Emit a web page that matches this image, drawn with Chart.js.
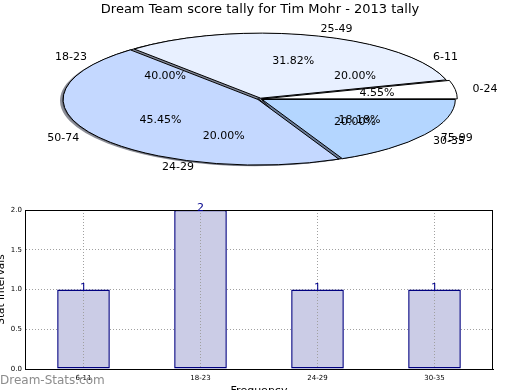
<!DOCTYPE html>
<html><head><meta charset="utf-8">
<script src="https://cdn.jsdelivr.net/npm/chart.js@4.4.0/dist/chart.umd.min.js"></script>
<style>
html,body{margin:0;padding:0;background:#fff;width:520px;height:390px;overflow:hidden;position:relative;}
canvas{position:absolute;left:0;}
#wm{position:absolute;left:0;top:373px;font:12px "DejaVu Sans";line-height:14px;color:#8c8c8c;z-index:5;}
</style></head><body>
<canvas id="pieA" width="520" height="390" style="top:0"></canvas>
<canvas id="pieB" width="520" height="390" style="top:0"></canvas>
<canvas id="bar" width="520" height="190" style="top:200px"></canvas>
<div id="wm">Dream-Stats.com</div>
<script>
// ---- data ----
const chartTitle = 'Dream Team score tally for Tim Mohr - 2013 tally';
const pieALabels = ['6-11', '18-23', '24-29', '30-35'];
const pieAValues = [1, 2, 1, 1];
const pieBLabels = ['0-24', '25-49', '50-74', '75-99'];
const pieBValues = [1, 7, 10, 4];
const barCategories = ['6-11', '18-23', '24-29', '30-35'];
const barValues = [1, 2, 1, 1];
const yTicks = [0, 0.5, 1, 1.5, 2];

// ---- styles ----
const pieColors = ['#ffffff', '#e8f0ff', '#c4d8ff', '#b4d6ff'];
const PIE_CX = 260, PIE_CY = 99, PIE_R = 193, PIE_RY = 65;
const K = PIE_RY / PIE_R;
const FONT = 'DejaVu Sans';

function applyT(ctx, el) {
  ctx.translate(PIE_CX, PIE_CY);
  ctx.scale(1, -K);
  ctx.translate(-el.x, -el.y);
}
function wedgePath(ctx, el, dx, dy) {
  const t = (el.options.offset || 0) / 4;
  const mid = (el.startAngle + el.endAngle) / 2;
  const circ = el.endAngle - el.startAngle;
  const fix = 1 - Math.sin(Math.min(Math.PI, circ));
  const R = el.outerRadius + t * fix;
  const cx = el.x + Math.cos(mid) * t + dx, cy = el.y + Math.sin(mid) * t + dy;
  ctx.moveTo(cx, cy);
  ctx.arc(cx, cy, R, el.startAngle, el.endAngle);
  ctx.closePath();
}
const squashPlugin = {
  id: 'squash',
  beforeDatasetsDraw(chart) {
    const ctx = chart.ctx;
    const arcs = chart.getDatasetMeta(0).data;
    ctx.save();
    applyT(ctx, arcs[0]);
    arcs.forEach(el => {
      ctx.beginPath();
      wedgePath(ctx, el, -0.016 * el.outerRadius, -0.018 * el.outerRadius);
      ctx.fillStyle = 'rgba(45,50,65,0.55)';
      ctx.fill();
    });
  },
  afterDatasetsDraw(chart) {
    const ctx = chart.ctx;
    ctx.restore();
    chart.getDatasetMeta(0).data.forEach(el => {
      ctx.save(); applyT(ctx, el); ctx.beginPath(); wedgePath(ctx, el, 0, 0); ctx.restore();
      ctx.save(); ctx.lineWidth = 1; ctx.strokeStyle = '#000'; ctx.lineJoin = 'round'; ctx.stroke(); ctx.restore();
    });
  }
};

function pieConfig(labels, values, offset, extraPlugins, withTitle) {
  return {
    type: 'pie',
    data: { labels: labels, datasets: [{
      data: values, backgroundColor: pieColors, borderWidth: 0, offset: offset, clip: false
    }]},
    options: {
      responsive: false, animation: false, rotation: 90, radius: PIE_R,
      plugins: {
        legend: { display: false }, tooltip: { enabled: false },
        title: { display: withTitle, text: chartTitle, color: '#000',
                 font: { family: FONT, size: 13, weight: 'normal' }, padding: { top: 2, bottom: 4 } }
      }
    },
    plugins: [squashPlugin].concat(extraPlugins)
  };
}

const chartA = new Chart(document.getElementById('pieA'), pieConfig(pieALabels, pieAValues, 6, [], true));

function drawPieTexts(ctx, chart, labels) {
  const meta = chart.getDatasetMeta(0);
  const vals = chart.data.datasets[0].data;
  const total = vals.reduce((a, b) => a + b, 0);
  meta.data.forEach((el, i) => {
    const t = (el.options.offset || 0) / 4;
    const mid = (el.startAngle + el.endAngle) / 2;
    const R = el.outerRadius;
    const ox = Math.cos(mid) * t, oy = Math.sin(mid) * t;
    ctx.textBaseline = 'middle';
    ctx.textAlign = Math.cos(mid) > 0 ? 'left' : 'right';
    ctx.fillText(labels[i], PIE_CX + ox + 1.1 * R * Math.cos(mid), PIE_CY - K * (oy + 1.1 * R * Math.sin(mid)));
    ctx.textAlign = 'center';
    ctx.fillText((vals[i] / total * 100).toFixed(2) + '%', PIE_CX + ox + 0.6 * R * Math.cos(mid), PIE_CY - K * (oy + 0.6 * R * Math.sin(mid)));
  });
}
const textPlugin = {
  id: 'pieTexts',
  afterDraw(chart) {
    const ctx = chart.ctx;
    ctx.save();
    ctx.font = '11px "' + FONT + '"';
    ctx.fillStyle = '#000';
    drawPieTexts(ctx, chartA, pieALabels);
    drawPieTexts(ctx, chart, pieBLabels);
    ctx.restore();
  }
};
const chartB = new Chart(document.getElementById('pieB'), pieConfig(pieBLabels, pieBValues, 10, [textPlugin], false));

// ---- bar chart ----
const barPlugin = {
  id: 'barExtras',
  afterDatasetsDraw(chart) {
    chart.scales.x.drawGrid(chart.chartArea);
    const ctx = chart.ctx;
    const a = chart.chartArea;
    ctx.save();
    ctx.strokeStyle = '#000'; ctx.lineWidth = 1;
    ctx.strokeRect(Math.round(a.left) + 0.5, Math.round(a.top) + 0.5, Math.round(a.right - a.left) - 1, Math.round(a.bottom - a.top));
    ctx.fillStyle = '#00008b';
    ctx.font = '11px "' + FONT + '"';
    ctx.textAlign = 'center'; ctx.textBaseline = 'alphabetic';
    const meta = chart.getDatasetMeta(0);
    meta.data.forEach((el, i) => {
      ctx.fillText(String(chart.data.datasets[0].data[i]), el.x, el.y + 1);
    });
    ctx.restore();
  }
};
new Chart(document.getElementById('bar'), {
  type: 'bar',
  data: { labels: barCategories, datasets: [{
    data: barValues, backgroundColor: '#cbcce6', borderColor: '#000080', borderWidth: 1.5,
    borderSkipped: false, barPercentage: 0.45, categoryPercentage: 1
  }]},
  options: {
    responsive: false, animation: false,
    layout: { padding: { top: 10, right: 27, left: 0, bottom: 0 } },
    plugins: { legend: { display: false }, tooltip: { enabled: false } },
    scales: {
      x: {
        grid: { offset: false, color: '#a0a0a0', lineWidth: 1, drawTicks: false },
        border: { display: true, color: '#000', dash: [1, 2] },
        ticks: { font: { family: FONT, size: 7 }, color: '#000', padding: 5 },
        title: { display: true, text: 'Frequency', color: '#000', font: { family: FONT, size: 11 }, padding: { top: 0, bottom: -8 } },
        afterFit(s) { s.height = 21; }
      },
      y: {
        min: yTicks[0], max: yTicks[yTicks.length - 1],
        grid: { color: '#a0a0a0', lineWidth: 1, drawTicks: false },
        border: { display: true, color: '#000', dash: [1, 2] },
        ticks: { stepSize: yTicks[1] - yTicks[0], callback: v => Number(v).toFixed(1),
                 font: { family: FONT, size: 7 }, color: '#000', padding: 3 },
        title: { display: true, text: 'Stat Intervals', color: '#000', font: { family: FONT, size: 10.5 }, padding: { top: -5, bottom: 0 } },
        afterFit(s) { s.width = 25; }
      }
    }
  },
  plugins: [barPlugin]
});
</script>
</body></html>
